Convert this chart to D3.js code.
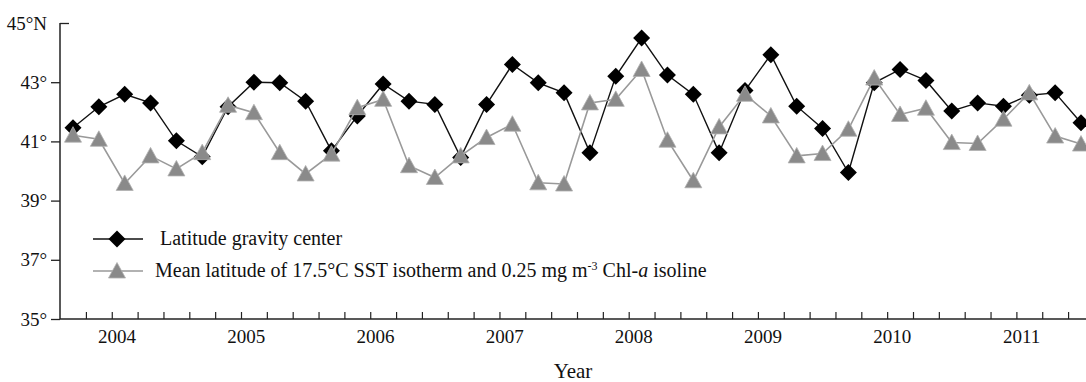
<!DOCTYPE html>
<html lang="en">
<head>
<meta charset="utf-8">
<title>Latitude gravity center</title>
<script src="https://d3js.org/d3.v7.min.js"></script>
<style>
  body { margin: 0; background: #fff; }
  text { font-family: "Liberation Serif", "Times New Roman", serif; fill: #111; }
</style>
</head>
<body>
<script>
// data, one value per period (5 per year)
var gravityCenter = [41.46, 42.17, 42.59, 42.30, 41.02, 40.48, 42.17, 43.00, 42.98, 42.36,
                     40.68, 41.86, 42.94, 42.36, 42.25, 40.46, 42.25, 43.60, 42.98, 42.64,
                     40.62, 43.20, 44.49, 43.24, 42.59, 40.62, 42.72, 43.93, 42.19, 41.44,
                     39.95, 42.98, 43.43, 43.06, 42.03, 42.30, 42.19, 42.56, 42.64, 41.63];
var meanLatitude = [41.21, 41.07, 39.58, 40.51, 40.07, 40.62, 42.22, 41.97, 40.62, 39.90,
                    40.57, 42.14, 42.42, 40.18, 39.78, 40.51, 41.13, 41.58, 39.60, 39.56,
                    42.30, 42.42, 43.43, 41.04, 39.67, 41.49, 42.59, 41.86, 40.51, 40.59,
                    41.41, 43.14, 41.91, 42.12, 40.96, 40.93, 41.75, 42.64, 41.18, 40.91];
var years = ["2004", "2005", "2006", "2007", "2008", "2009", "2010", "2011"];
var yTicks = [35, 37, 39, 41, 43, 45];
var yTickLabels = ["35°", "37°", "39°", "41°", "43°", "45°N"];

var width = 1086, height = 382;

var svg = d3.select("body").append("svg")
    .attr("width", width)
    .attr("height", height);

var x = d3.scaleLinear().domain([0, gravityCenter.length - 1]).range([73, 1081]);
var y = d3.scaleLinear().domain([35, 45]).range([319, 23]);

// y axis
var yAxis = svg.append("g").attr("transform", "translate(60,0)")
    .call(d3.axisLeft(y).tickValues(yTicks).tickSize(9).tickPadding(4)
        .tickFormat(function(d, i) { return yTickLabels[i]; }));
yAxis.select(".domain").attr("d", "M0," + y(45) + "V" + y(35)).attr("stroke", "#222").attr("stroke-width", 1.5);
yAxis.selectAll(".tick line").attr("stroke", "#222").attr("stroke-width", 1.3);
yAxis.selectAll(".tick").filter(function(d) { return d === 45; }).select("line").attr("x2", 9);
yAxis.selectAll(".tick text").style("font-size", "19px").attr("fill", "#111");

// x axis: ticks between periods, inward
var xTickVals = d3.range(gravityCenter.length - 1).map(function(k) { return k + 0.5; });
var xAxis = svg.append("g").attr("transform", "translate(0," + y(35) + ")")
    .call(d3.axisBottom(x).tickValues(xTickVals).tickSize(-7).tickFormat(""));
xAxis.select(".domain").attr("d", "M60,0H" + width).attr("stroke", "#222").attr("stroke-width", 1.5);
xAxis.selectAll(".tick line").attr("stroke", "#222").attr("stroke-width", 1.2);

svg.append("g").selectAll("text")
    .data(years)
    .join("text")
    .attr("x", function(d, i) { return x(1.7 + 5 * i); })
    .attr("y", 343)
    .attr("text-anchor", "middle")
    .style("font-size", "19px")
    .text(function(d) { return d; });

svg.append("text")
    .attr("x", 573).attr("y", 378)
    .attr("text-anchor", "middle")
    .style("font-size", "21px")
    .text("Year");

// markers
var diamond = "M0,-8.5L8.5,0L0,8.5L-8.5,0Z";
var triangle = "M0,-8.5L8.5,7L-8.5,7Z";

var line = d3.line().x(function(d, i) { return x(i); }).y(function(d) { return y(d); });

svg.append("path").datum(gravityCenter)
    .attr("d", line).attr("fill", "none").attr("stroke", "#111").attr("stroke-width", 1.4);
svg.append("g").selectAll("path")
    .data(gravityCenter)
    .join("path")
    .attr("d", diamond)
    .attr("transform", function(d, i) { return "translate(" + x(i) + "," + y(d) + ")"; })
    .attr("fill", "#000");

svg.append("path").datum(meanLatitude)
    .attr("d", line).attr("fill", "none").attr("stroke", "#999").attr("stroke-width", 1.6);
svg.append("g").selectAll("path")
    .data(meanLatitude)
    .join("path")
    .attr("d", triangle)
    .attr("transform", function(d, i) { return "translate(" + x(i) + "," + y(d) + ")"; })
    .attr("fill", "#8a8a8a").attr("stroke", "#b0b0b0").attr("stroke-width", 0.8);

// legend
var legend = svg.append("g");
legend.append("line").attr("x1", 93).attr("x2", 143).attr("y1", 239).attr("y2", 239)
    .attr("stroke", "#111").attr("stroke-width", 1.4);
legend.append("path").attr("d", diamond).attr("transform", "translate(117,239)").attr("fill", "#000");
legend.append("text").attr("x", 160).attr("y", 245).style("font-size", "20px")
    .text("Latitude gravity center");

legend.append("line").attr("x1", 93).attr("x2", 143).attr("y1", 271).attr("y2", 271)
    .attr("stroke", "#999").attr("stroke-width", 1.6);
legend.append("path").attr("d", triangle).attr("transform", "translate(117,271)")
    .attr("fill", "#8a8a8a").attr("stroke", "#b0b0b0").attr("stroke-width", 0.8);
var t2 = legend.append("text").attr("x", 155).attr("y", 277).style("font-size", "20px");
t2.append("tspan").text("Mean latitude of 17.5°C SST isotherm and 0.25 mg m");
t2.append("tspan").attr("dy", -7).style("font-size", "12px").text("-3");
t2.append("tspan").attr("dy", 7).text(" Chl-");
t2.append("tspan").style("font-style", "italic").text("a");
t2.append("tspan").text(" isoline");
</script>
</body>
</html>
